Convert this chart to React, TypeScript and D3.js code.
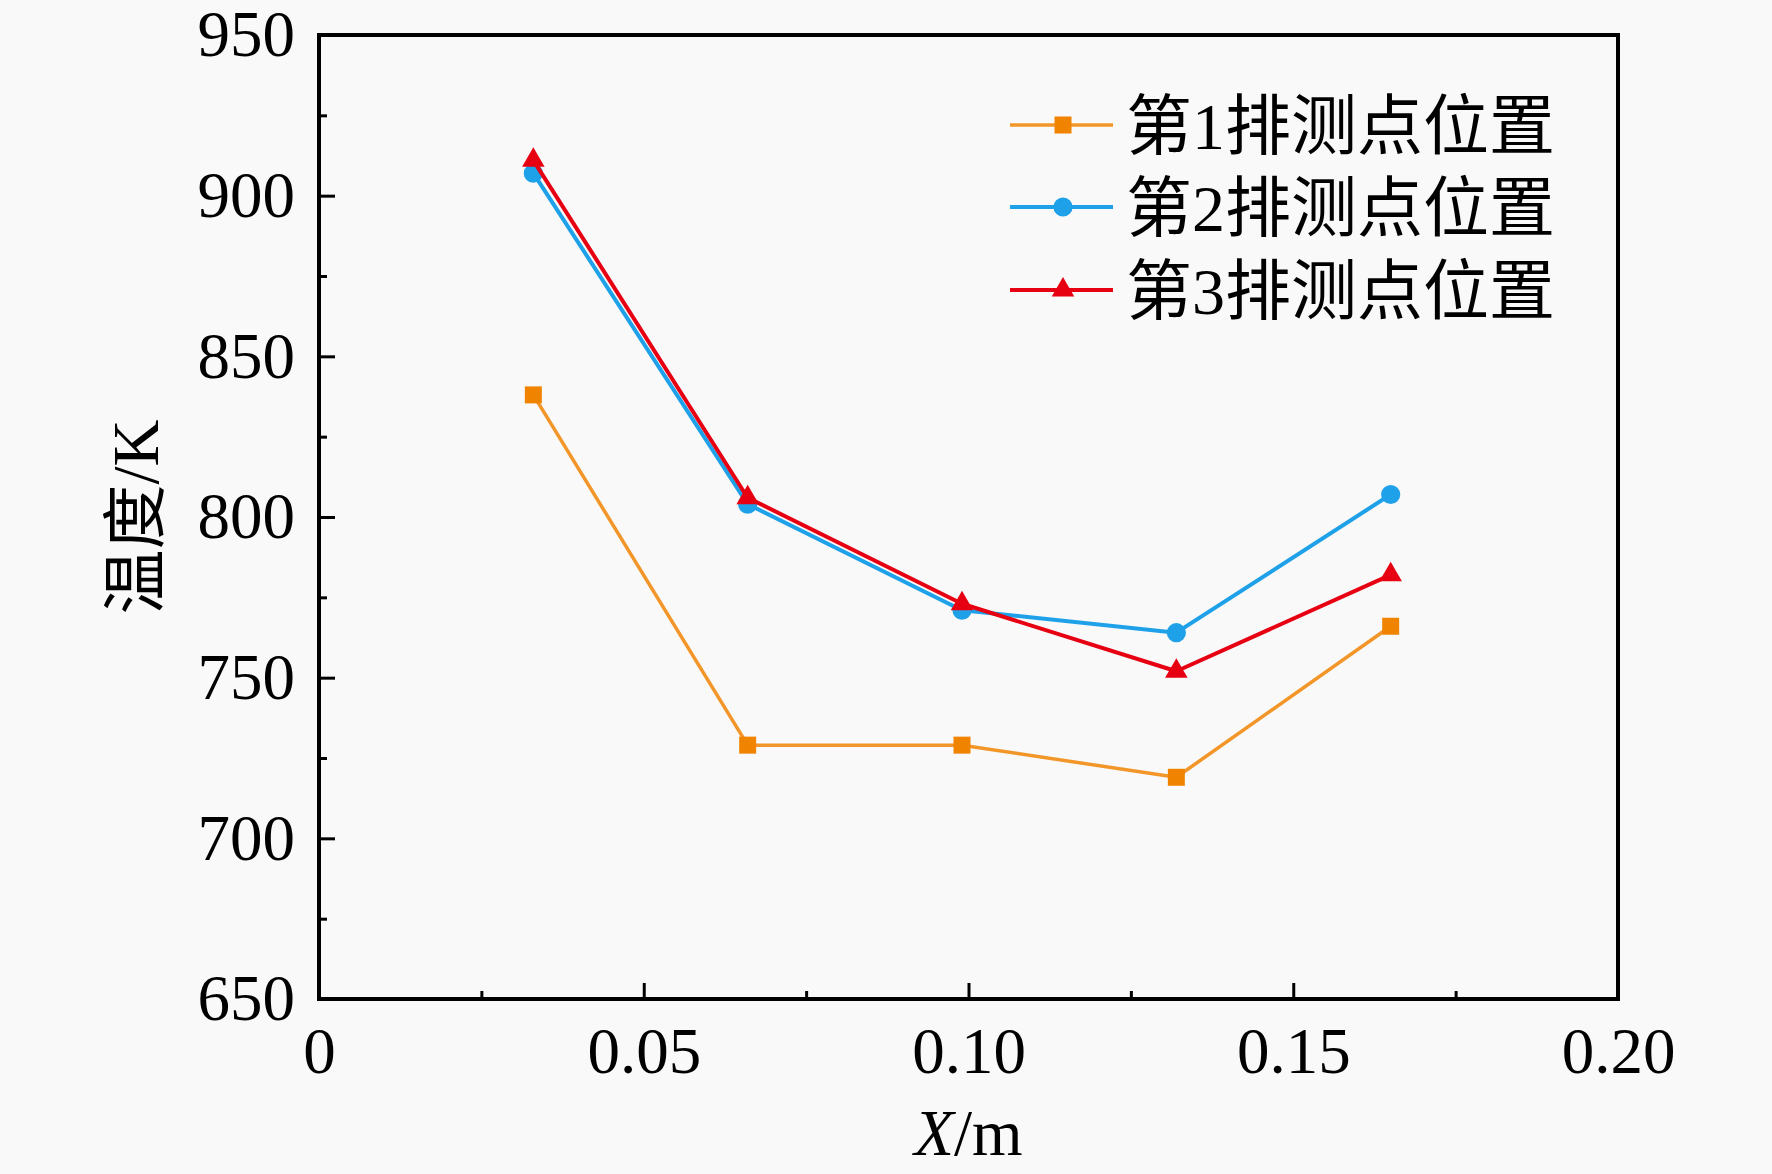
import React, { useEffect, useRef } from "react";
import * as d3 from "d3";

// X 位置 (m)
const xValues = [0.033, 0.066, 0.099, 0.132, 0.165];
// 温度 (K)
const row1 = [838, 729, 729, 719, 766];
const row2 = [907, 804, 771, 764, 807];
const row3 = [911, 806, 773, 752, 782];
const seriesNames = ["第1排测点位置", "第2排测点位置", "第3排测点位置"];

const xTicks = [0, 0.05, 0.1, 0.15, 0.2];
const xTickLabels = ["0", "0.05", "0.10", "0.15", "0.20"];
const xMinorTicks = [0.025, 0.075, 0.125, 0.175];
const yTicks = [650, 700, 750, 800, 850, 900, 950];
const yMinorTicks = [675, 725, 775, 825, 875, 925];

function App() {
  const ref = useRef<SVGSVGElement>(null);

  useEffect(() => {
    const width = 1772;
    const height = 1174;
    const margin = { top: 35, right: 154, bottom: 175, left: 319 };
    const serif = '"Liberation Serif", "Times New Roman", "Noto Sans CJK SC", serif';

    const svg = d3.select(ref.current);
    svg.selectAll("*").remove();

    svg.append("rect").attr("width", width).attr("height", height).attr("fill", "#f9f9f9");

    const x = d3.scaleLinear().domain([0, 0.2]).range([margin.left, width - margin.right]);
    const y = d3.scaleLinear().domain([650, 950]).range([height - margin.bottom, margin.top]);

    // x 轴
    const xAxis = svg.append("g")
      .attr("transform", `translate(0, ${height - margin.bottom})`)
      .call(d3.axisBottom(x)
        .tickValues(xTicks)
        .tickFormat((d, i) => xTickLabels[i])
        .tickSizeInner(-16)
        .tickSizeOuter(0)
        .tickPadding(28));
    xAxis.select(".domain").remove();
    xAxis.selectAll("line").attr("stroke-width", 3);
    xAxis.selectAll("text").attr("font-family", serif).attr("font-size", 65).attr("fill", "#000");

    const xMinor = svg.append("g")
      .attr("transform", `translate(0, ${height - margin.bottom})`)
      .call(d3.axisBottom(x).tickValues(xMinorTicks).tickFormat(() => "").tickSizeInner(-8).tickSizeOuter(0));
    xMinor.select(".domain").remove();
    xMinor.selectAll("line").attr("stroke-width", 3);

    // y 轴
    const yAxis = svg.append("g")
      .attr("transform", `translate(${margin.left}, 0)`)
      .call(d3.axisLeft(y)
        .tickValues(yTicks)
        .tickFormat(d3.format("d"))
        .tickSizeInner(-16)
        .tickSizeOuter(0)
        .tickPadding(24));
    yAxis.select(".domain").remove();
    yAxis.selectAll("line").attr("stroke-width", 3);
    yAxis.selectAll("text").attr("font-family", serif).attr("font-size", 65).attr("fill", "#000");

    const yMinor = svg.append("g")
      .attr("transform", `translate(${margin.left}, 0)`)
      .call(d3.axisLeft(y).tickValues(yMinorTicks).tickFormat(() => "").tickSizeInner(-8).tickSizeOuter(0));
    yMinor.select(".domain").remove();
    yMinor.selectAll("line").attr("stroke-width", 3);

    // 边框
    svg.append("rect")
      .attr("x", margin.left)
      .attr("y", margin.top)
      .attr("width", width - margin.left - margin.right)
      .attr("height", height - margin.top - margin.bottom)
      .attr("fill", "none")
      .attr("stroke", "#000")
      .attr("stroke-width", 4);

    // 轴标题
    const xTitle = svg.append("text")
      .attr("x", (margin.left + width - margin.right) / 2)
      .attr("y", 1155)
      .attr("text-anchor", "middle")
      .attr("font-family", serif)
      .attr("font-size", 65);
    xTitle.append("tspan").attr("font-style", "italic").text("X");
    xTitle.append("tspan").text("/m");

    svg.append("text")
      .attr("transform", `translate(158, ${(margin.top + height - margin.bottom) / 2}) rotate(-90)`)
      .attr("text-anchor", "middle")
      .attr("font-family", serif)
      .attr("font-size", 65)
      .text("温度/K");

    const series = [
      { name: seriesNames[0], values: row1, line: "#f39629", fill: "#f08300", symbol: d3.symbolSquare, size: 289, width: 3.5 },
      { name: seriesNames[1], values: row2, line: "#1ea1e8", fill: "#1ea1e8", symbol: d3.symbolCircle, size: 290, width: 4 },
      { name: seriesNames[2], values: row3, line: "#e60012", fill: "#e60012", symbol: d3.symbolTriangle, size: 220, width: 4 },
    ];

    const line = d3.line<number>()
      .x((d, i) => x(xValues[i]))
      .y(d => y(d));

    series.forEach(s => {
      svg.append("path")
        .datum(s.values)
        .attr("d", line)
        .attr("fill", "none")
        .attr("stroke", s.line)
        .attr("stroke-width", s.width)
        .attr("stroke-linejoin", "round");

      svg.append("g")
        .selectAll("path")
        .data(s.values)
        .enter()
        .append("path")
        .attr("transform", (d, i) => `translate(${x(xValues[i])}, ${y(d)})`)
        .attr("d", d3.symbol().type(s.symbol).size(s.size)())
        .attr("fill", s.fill);
    });

    // 图例
    const legendY = [125, 207, 290];
    series.forEach((s, i) => {
      const g = svg.append("g").attr("transform", `translate(0, ${legendY[i]})`);
      g.append("line")
        .attr("x1", 1010).attr("x2", 1113)
        .attr("stroke", s.line)
        .attr("stroke-width", s.width);
      g.append("path")
        .attr("transform", "translate(1063, 0)")
        .attr("d", d3.symbol().type(s.symbol).size(s.size)())
        .attr("fill", s.fill);
      g.append("text")
        .attr("x", 1126)
        .attr("dy", "0.36em")
        .attr("font-family", serif)
        .attr("font-size", 66)
        .text(s.name);
    });
  }, []);

  return (
    <div style={{ position: "absolute", left: 0, top: 0 }}>
      <svg ref={ref} width={1772} height={1174} style={{ display: "block" }} />
    </div>
  );
}

export default App;
